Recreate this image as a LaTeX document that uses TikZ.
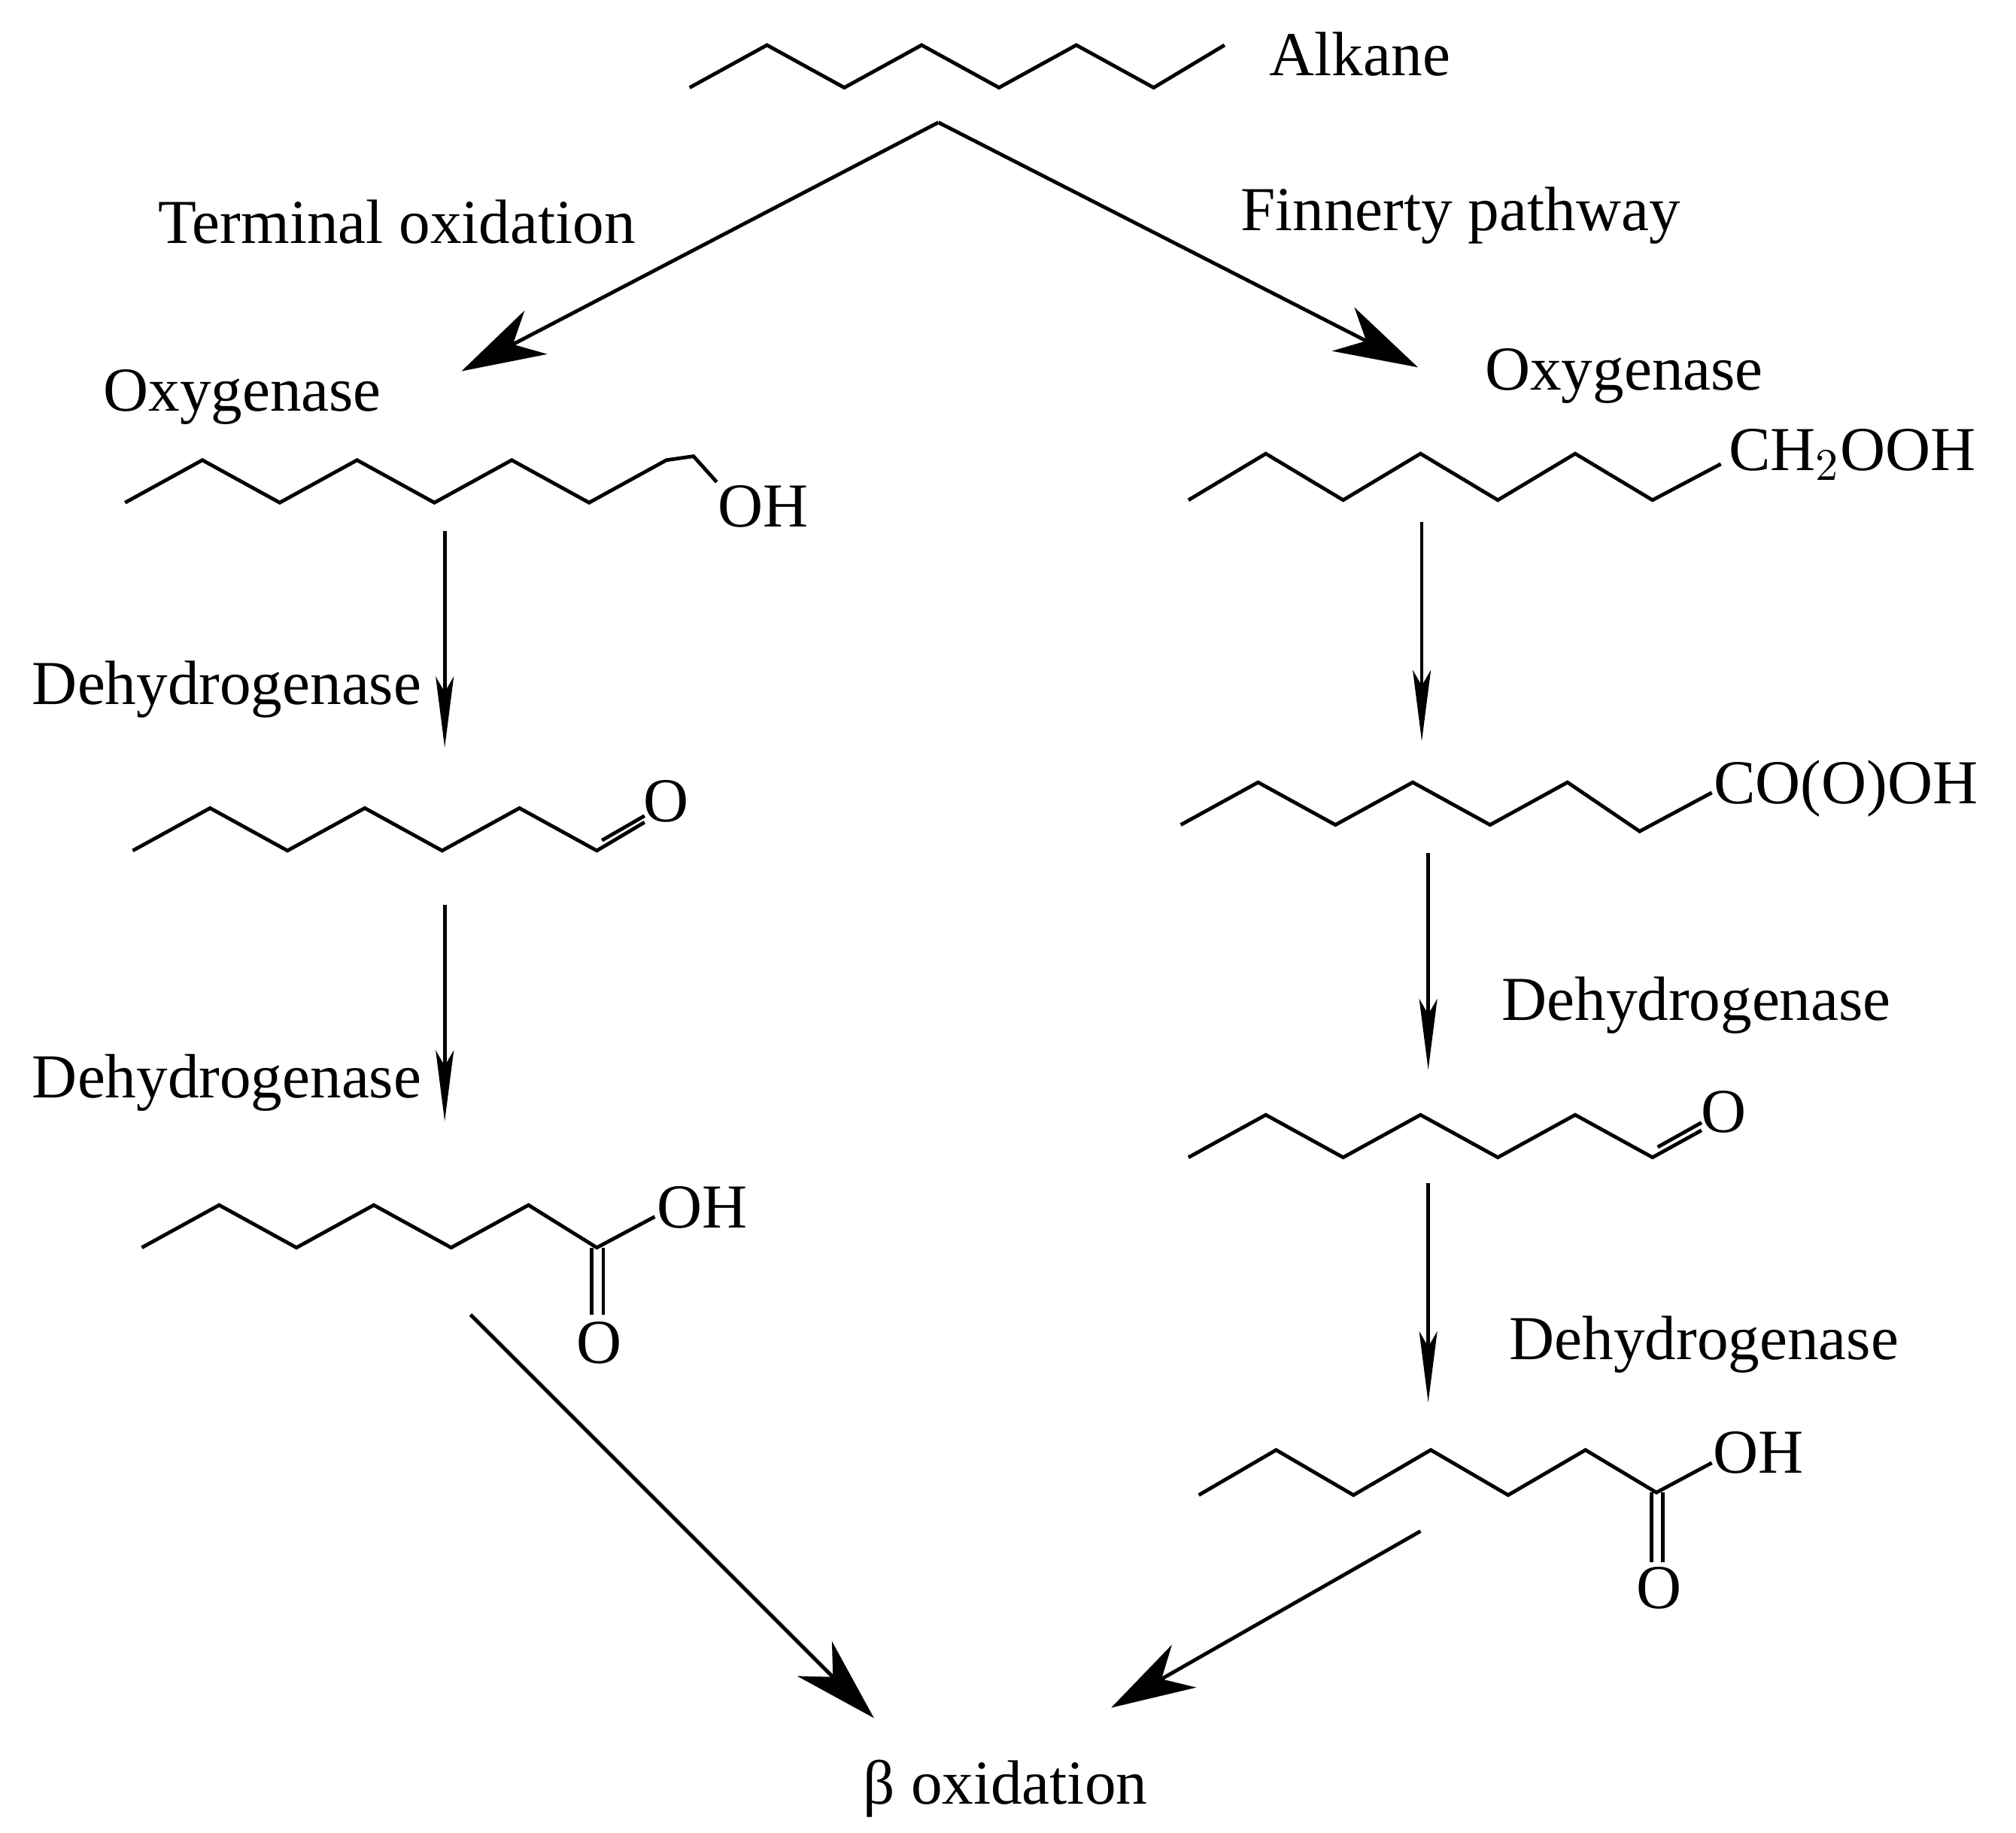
\documentclass[tikz,border=0pt]{standalone}
\usepackage{fontspec}
\setmainfont{Liberation Serif}
\usetikzlibrary{arrows.meta}
\begin{document}
\begin{tikzpicture}[x=0.01cm,y=-0.01cm,
  bond/.style={line width=0.8pt,line join=miter},
  big/.style={line width=0.8pt,-{Stealth[length=0.65cm,width=0.38cm,inset=0.2cm]}},
  small/.style={line width=0.8pt,-{Stealth[length=0.55cm,width=0.14cm,inset=0.12cm]}},
  lab/.style={font=\fontsize{13.8}{16}\selectfont,inner sep=0pt}]
\useasboundingbox (0,0) rectangle (1564,1422);
% alkane
\draw[bond] (535,68)--(595,35)--(655,68)--(715,35)--(775,68)--(835,35)--(895,68)--(950,35);
\node[lab] (alk) at (1055,42) {Alkane};
\coordinate (top) at (728,95);
\coordinate (lt) at (358,288);
\coordinate (rt) at (1100,285);
\draw[big] (top)--(lt);
\draw[big] (top)--(rt);
\node[lab] (to) at (308,172) {Terminal oxidation};
\node[lab] (fp) at (1133,167) {Finnerty pathway};
% left
\node[lab] (ox1) at (188,308) {Oxygenase};
\draw[bond] (97,390)--(157,357)--(217,390)--(277,357)--(337,390)--(397,357)--(457,390)--(517,357)--(538,354)--(556,374);
\node[lab] (oh1) at (592,393) {OH};
\coordinate (a1) at (345,412); \coordinate (b1) at (345,580);
\draw[small] (a1)--(b1);
\node[lab] (d1) at (176,535) {Dehydrogenase};
\draw[bond] (103,660)--(163,627)--(223,660)--(283,627)--(343,660)--(403,627)--(463,660)--(500,638);
\draw[bond] (467,652)--(500,633);
\node[lab] (o1) at (517,622) {O};
\coordinate (a2) at (345,702); \coordinate (b2) at (345,870);
\draw[small] (a2)--(b2);
\node[lab] (d2) at (176,840) {Dehydrogenase};
\draw[bond] (110,968)--(170,935)--(230,968)--(290,935)--(350,968)--(410,935)--(463,968)--(508,944);
\draw[bond] (459,968)--(459,1020);
\draw[bond] (468,968)--(468,1020);
\node[lab] (oh2) at (545,937) {OH};
\node[lab] (o2) at (465,1042) {O};
\coordinate (a3) at (365,1020); \coordinate (bx) at (678,1333);
\draw[big] (a3)--(bx);
% right
\node[lab] (ox2) at (1260,292) {Oxygenase};
\draw[bond] (922,388)--(982,352)--(1042,388)--(1102,352)--(1162,388)--(1222,352)--(1282,388)--(1335,360);
\node[lab] (ch) at (1437,353) {CH$_2$OOH};
\coordinate (a4) at (1103,405); \coordinate (b4) at (1103,575);
\draw[small] (a4)--(b4);
\draw[bond] (916,640)--(976,607)--(1036,640)--(1096,607)--(1156,640)--(1216,607)--(1272,645)--(1328,615);
\node[lab] (co) at (1432,612) {CO(O)OH};
\coordinate (a5) at (1108,662); \coordinate (b5) at (1108,830);
\draw[small] (a5)--(b5);
\node[lab] (d3) at (1316,780) {Dehydrogenase};
\draw[bond] (922,898)--(982,865)--(1042,898)--(1102,865)--(1162,898)--(1222,865)--(1282,898)--(1320,877);
\draw[bond] (1286,890)--(1320,871);
\node[lab] (o3) at (1337,863) {O};
\coordinate (a6) at (1108,918); \coordinate (b6) at (1108,1088);
\draw[small] (a6)--(b6);
\node[lab] (d4) at (1322,1043) {Dehydrogenase};
\draw[bond] (930,1160)--(990,1125)--(1050,1160)--(1110,1125)--(1170,1160)--(1230,1125)--(1285,1158)--(1328,1135);
\draw[bond] (1281,1158)--(1281,1212);
\draw[bond] (1290,1158)--(1290,1212);
\node[lab] (oh3) at (1364,1127) {OH};
\node[lab] (o4) at (1287,1232) {O};
\coordinate (a7) at (1102,1188); \coordinate (by) at (862,1325);
\draw[big] (a7)--(by);
\node[lab] (beta) at (780,1388) {β oxidation};
\end{tikzpicture}
\end{document}
